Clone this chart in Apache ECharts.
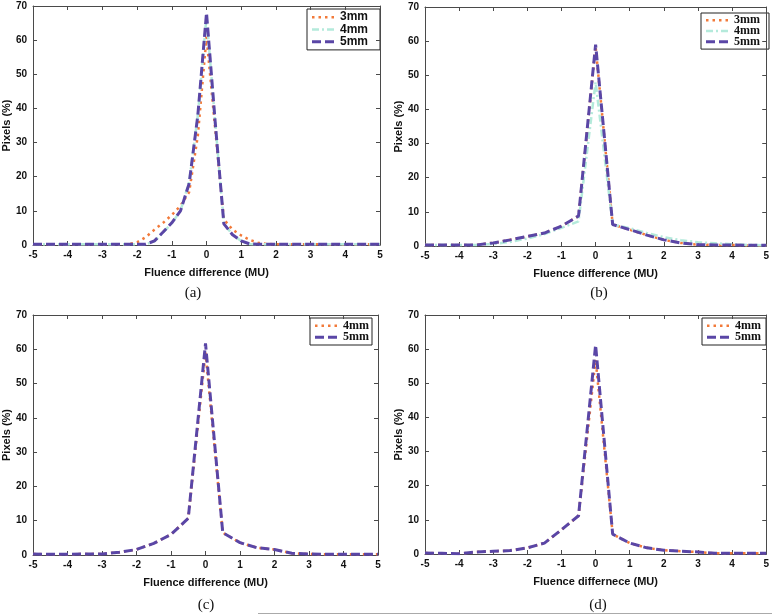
<!DOCTYPE html>
<html>
<head>
<meta charset="utf-8">
<script src="https://cdn.jsdelivr.net/npm/echarts@6/dist/echarts.min.js"></script>
<style>html,body{margin:0;padding:0;background:#fff;}#c{width:772px;height:616px;}</style>
</head>
<body>
<div id="c"></div>
<script>
// ---------- data ----------
const xFine = [-5,-4.75,-4.5,-4.25,-4,-3.75,-3.5,-3.25,-3,-2.75,-2.5,-2.25,-2,-1.75,-1.5,-1.25,-1,-0.75,-0.5,-0.25,0,0.25,0.5,0.75,1,1.25,1.5,1.75,2,2.25,2.5,2.75,3,3.25,3.5,3.75,4,4.25,4.5,4.75,5];
const xCoarse = [-5,-4.5,-4,-3.5,-3,-2.5,-2,-1.5,-1,-0.5,0,0.5,1,1.5,2,2.5,3,3.5,4,4.5,5];

// panel (a)
const a3mm = [0.2,0.2,0.2,0.2,0.2,0.2,0.2,0.2,0.2,0.2,0.2,0.2,0.8,2.3,4.5,6.5,8.8,11.5,15.5,32,61,34,7.5,4.5,2.8,1.5,0.6,0.3,0.2,0.2,0.2,0.2,0.2,0.2,0.2,0.2,0.2,0.2,0.2,0.2,0.2];
const a4mm = [0.2,0.2,0.2,0.2,0.2,0.2,0.2,0.2,0.2,0.2,0.2,0.2,0.2,0.2,1.1,3.7,6.4,10,18.5,38,67,36,6.3,3,1.2,0.3,0.2,0.2,0.2,0.2,0.2,0.2,0.2,0.2,0.2,0.2,0.2,0.2,0.2,0.2,0.2];
const a5mm = [0.2,0.2,0.2,0.2,0.2,0.2,0.2,0.2,0.2,0.2,0.2,0.2,0.2,0.2,1.2,3.8,6.5,10,18,38,68,36,6.2,3,1.2,0.3,0.2,0.2,0.2,0.2,0.2,0.2,0.2,0.2,0.2,0.2,0.2,0.2,0.2,0.2,0.2];

// panel (b)
const b3mm = [0.3,0.3,0.3,0.3,0.9,1.8,2.8,3.8,5.8,8.8,58.5,6.3,4.8,3.2,1.8,0.9,0.4,0.3,0.3,0.2,0.2];
const b4mm = [0.3,0.3,0.3,0.3,0.6,1.2,2.2,3.5,5.3,7.2,48,6.3,5.2,3.8,2.6,1.7,1.1,0.8,0.5,0.3,0.2];
const b5mm = [0.3,0.3,0.3,0.3,0.9,1.8,2.8,3.8,5.8,8.8,59,6.3,4.8,3.2,1.8,0.9,0.4,0.3,0.3,0.2,0.2];

// panel (c)
const c4mm = [0.3,0.2,0.2,0.3,0.3,0.8,1.6,3.4,6.0,10.7,59,6.5,3.6,2.1,1.6,0.5,0.3,0.2,0.2,0.2,0.2];
const c5mm = [0.3,0.2,0.2,0.3,0.3,0.8,1.6,3.4,6.0,10.7,61.7,6.5,3.6,2.1,1.6,0.5,0.3,0.2,0.2,0.2,0.2];

// panel (d)
const d4mm = [0.3,0.2,0.1,0.6,0.8,1.0,1.8,3.2,7.1,11.2,57,5.8,3.2,1.8,1.1,0.8,0.6,0.2,0.2,0.2,0.2];
const d5mm = [0.3,0.2,0.1,0.6,0.8,1.0,1.8,3.2,7.1,11.2,61.2,5.8,3.2,1.8,1.1,0.8,0.6,0.2,0.2,0.2,0.2];

const xTicks = [-5,-4,-3,-2,-1,0,1,2,3,4,5];
const yTicks = [0,10,20,30,40,50,60,70];
const xTitles = ['Fluence difference (MU)','Fluence difference (MU)','Fluence difference (MU)','Fluence differnece (MU)'];
const yTitle = 'Pixels (%)';
const captions = ['(a)','(b)','(c)','(d)'];

// ---------- styles ----------
const C3 = '#f27a3a', C4 = '#b4eadb', C5 = '#5a46a6';
const AX = '#4a4a4a';
const grids = [
  {left:33, top:6, width:347, height:239},
  {left:425, top:7, width:344, height:239},
  {left:33, top:315, width:345, height:240},
  {left:425, top:315, width:344, height:239}
];
const pair = (xs, ys) => xs.map((x,i)=>[x, ys[i]]);

const xAxes = [], yAxes = [], series = [];
grids.forEach((g, i) => {
  xAxes.push({
    gridIndex:i, type:'value', min:-5, max:5, interval:1, position:'bottom',
    name: xTitles[i], nameLocation:'middle', nameGap:22,
    nameTextStyle:{fontFamily:'Liberation Sans', fontWeight:'bold', fontSize:11, color:'#111'},
    axisLine:{onZero:false, lineStyle:{color:AX, width:1}},
    axisTick:{inside:true, length:4, lineStyle:{color:AX}},
    axisLabel:{fontFamily:'Liberation Sans', fontWeight:'bold', fontSize:10, color:'#111', margin:5},
    splitLine:{show:false}
  });
  xAxes.push({
    gridIndex:i, type:'value', min:-5, max:5, interval:1, position:'top',
    axisLine:{onZero:false, lineStyle:{color:AX, width:1}},
    axisTick:{inside:true, length:4, lineStyle:{color:AX}},
    axisLabel:{show:false}, splitLine:{show:false}
  });
  yAxes.push({
    gridIndex:i, type:'value', min:0, max:70, interval:10, position:'left',
    name: yTitle, nameLocation:'middle', nameGap:20, nameRotate:90,
    nameTextStyle:{fontFamily:'Liberation Sans', fontWeight:'bold', fontSize:11, color:'#111'},
    axisLine:{show:true, onZero:false, lineStyle:{color:AX, width:1}},
    axisTick:{show:true, inside:true, length:4, lineStyle:{color:AX}},
    axisLabel:{fontFamily:'Liberation Sans', fontWeight:'bold', fontSize:10, color:'#111', margin:6},
    splitLine:{show:false}
  });
  yAxes.push({
    gridIndex:i, type:'value', min:0, max:70, interval:10, position:'right',
    axisLine:{show:true, onZero:false, lineStyle:{color:AX, width:1}},
    axisTick:{show:true, inside:true, length:4, lineStyle:{color:AX}},
    axisLabel:{show:false}, splitLine:{show:false}
  });
});

function addSeries(gi, name, xs, ys, color, type, width){
  series.push({
    type:'line', name:name, xAxisIndex:gi*2, yAxisIndex:gi*2,
    data: pair(xs, ys), symbol:'none', silent:true, animation:false,
    lineStyle:{color:color, width:width, type:type, cap:'butt'},
    itemStyle:{color:color}
  });
}
const DOT = [2.5,4], DASHDOT = [7,3,2,3], DASH = [9,4];
addSeries(0,'3mm', xFine, a3mm, C3, DOT, 2.5);
addSeries(0,'4mm', xFine, a4mm, C4, DASHDOT, 2.5);
addSeries(0,'5mm', xFine, a5mm, C5, DASH, 3);
addSeries(1,'3mm', xCoarse, b3mm, C3, DOT, 2.5);
addSeries(1,'4mm', xCoarse, b4mm, C4, DASHDOT, 2.5);
addSeries(1,'5mm', xCoarse, b5mm, C5, DASH, 3);
addSeries(2,'4mm', xCoarse, c4mm, C3, DOT, 2.5);
addSeries(2,'5mm', xCoarse, c5mm, C5, DASH, 3);
addSeries(3,'4mm', xCoarse, d4mm, C3, DOT, 2.5);
addSeries(3,'5mm', xCoarse, d5mm, C5, DASH, 3);

// legends drawn as graphics so that (c)/(d) "4mm" uses the orange dotted style
function legendBox(x, y, w, rowH, items, font){
  const els = [{type:'rect', shape:{x:x, y:y, width:w, height:rowH*items.length+4},
    style:{fill:'#fff', stroke:'#222', lineWidth:1}}];
  items.forEach((it, k) => {
    const cy = y + 2 + rowH*k + rowH/2;
    els.push({type:'line', shape:{x1:x+5, y1:cy, x2:x+28, y2:cy},
      style:{stroke:it.color, lineWidth:it.w, lineDash:it.dash}});
    els.push({type:'text', x:x+33, y:cy, style:{text:it.name, font:font, fill:'#111', verticalAlign:'middle'}});
  });
  return els;
}
const L3 = {name:'3mm', color:C3, w:2.5, dash:DOT};
const L4 = {name:'4mm', color:C4, w:2.5, dash:DASHDOT};
const L5 = {name:'5mm', color:C5, w:3, dash:DASH};
const L4o = {name:'4mm', color:C3, w:2.5, dash:DOT};

const graphics = [].concat(
  legendBox(307, 9, 73, 12.3, [L3, L4, L5], 'bold 12px "Liberation Sans"'),
  legendBox(701, 13, 68, 10.7, [L3, L4, L5], 'bold 12px "Liberation Serif"'),
  legendBox(310, 318, 62, 11.5, [L4o, L5], 'bold 12px "Liberation Serif"'),
  legendBox(702, 318, 64, 11.5, [L4o, L5], 'bold 12px "Liberation Serif"')
);
const capPos = [[193,293],[599,293],[206,605],[598,605]];
capPos.forEach((p, i) => {
  graphics.push({type:'text', x:p[0], y:p[1], style:{text:captions[i], font:'15px "Liberation Serif"', fill:'#111', align:'center', verticalAlign:'middle'}});
});
graphics.push({type:'line', shape:{x1:258, y1:613.5, x2:772, y2:613.5}, style:{stroke:'#aaa', lineWidth:1}});

const chart = echarts.init(document.getElementById('c'), null, {renderer:'canvas'});
chart.setOption({
  animation:false,
  backgroundColor:'#fff',
  grid: grids.map(g => Object.assign({containLabel:false}, g)),
  xAxis: xAxes,
  yAxis: yAxes,
  series: series,
  graphic: graphics
});
</script>
</body>
</html>
